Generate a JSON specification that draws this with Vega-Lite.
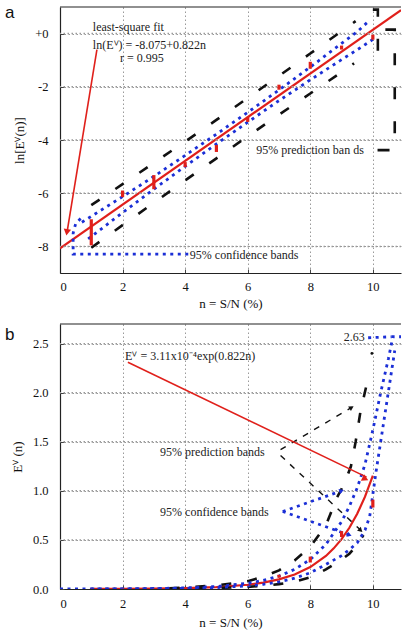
{
  "$schema": "https://vega.github.io/schema/vega-lite/v6.json",
  "background": "white",
  "padding": {"left": 4, "top": 3, "right": 0, "bottom": 0},
  "spacing": 12,
  "config": {
    "view": {"stroke": null},
    "font": "Liberation Serif",
    "axis": {
      "labelFont": "Liberation Serif", "labelFontSize": 12.5, "labelColor": "#111", "labelOverlap": false,
      "titleFont": "Liberation Serif", "titleFontSize": 13, "titleFontWeight": "normal", "titleColor": "#111",
      "domainColor": "#222", "domainWidth": 1.2,
      "tickColor": "#444", "tickSize": -4, "tickWidth": 1,
      "gridColor": "#9a9a9a", "gridDash": [1.5, 2.5], "gridWidth": 1
    }
  },
  "datasets": {
    "ga": [{"v": -8}, {"v": -6}, {"v": -4}, {"v": -2}, {"v": 0}],
    "gb": [{"v": 0.5}, {"v": 1}, {"v": 1.5}, {"v": 2}, {"v": 2.5}],
    "pa": [
      {"n": 1, "lo": -7.96, "hi": -6.98}, {"n": 2, "lo": -6.15, "hi": -5.9}, {"n": 3, "lo": -5.85, "hi": -5.32},
      {"n": 4, "lo": -5.02, "hi": -4.83}, {"n": 5, "lo": -4.45, "hi": -4.19}, {"n": 6, "lo": -3.32, "hi": -3.13},
      {"n": 7, "lo": -2.11, "hi": -1.92}, {"n": 8, "lo": -1.32, "hi": -1.06}, {"n": 9, "lo": -0.6, "hi": -0.45},
      {"n": 10, "lo": -0.23, "hi": -0.04}
    ],
    "fa": [{"n": 0, "v": -8.075}, {"n": 10.9, "v": 0.885}],
    "ca": [
      {"s": "u", "n": 0.7, "v": -7.09}, {"s": "u", "n": 1, "v": -6.87}, {"s": "u", "n": 1.5, "v": -6.5}, {"s": "u", "n": 2, "v": -6.13},
      {"s": "u", "n": 3, "v": -5.37}, {"s": "u", "n": 4, "v": -4.58}, {"s": "u", "n": 5, "v": -3.78}, {"s": "u", "n": 6, "v": -2.96},
      {"s": "u", "n": 7, "v": -2.12}, {"s": "u", "n": 8, "v": -1.26}, {"s": "u", "n": 9, "v": -0.37}, {"s": "u", "n": 9.5, "v": 0.07},
      {"s": "u", "n": 9.85, "v": 0.45},
      {"s": "l", "n": 0.9, "v": -7.72}, {"s": "l", "n": 1.5, "v": -7.18}, {"s": "l", "n": 2, "v": -6.73}, {"s": "l", "n": 3, "v": -5.85},
      {"s": "l", "n": 4, "v": -4.99}, {"s": "l", "n": 5, "v": -4.15}, {"s": "l", "n": 6, "v": -3.33}, {"s": "l", "n": 7, "v": -2.52},
      {"s": "l", "n": 8, "v": -1.74}, {"s": "l", "n": 9, "v": -0.98}, {"s": "l", "n": 9.5, "v": -0.61}, {"s": "l", "n": 10, "v": -0.22}
    ],
    "pra": [
      {"s": "u", "n": 1, "v": -6.45}, {"s": "u", "n": 2, "v": -5.66}, {"s": "u", "n": 3, "v": -4.86}, {"s": "u", "n": 4, "v": -4.06},
      {"s": "u", "n": 5, "v": -3.245}, {"s": "u", "n": 6, "v": -2.42}, {"s": "u", "n": 7, "v": -1.59}, {"s": "u", "n": 8, "v": -0.75},
      {"s": "u", "n": 9, "v": 0.09}, {"s": "u", "n": 9.45, "v": 0.47},
      {"s": "l", "n": 1, "v": -8.05}, {"s": "l", "n": 2, "v": -7.2}, {"s": "l", "n": 3, "v": -6.36}, {"s": "l", "n": 4, "v": -5.52},
      {"s": "l", "n": 5, "v": -4.69}, {"s": "l", "n": 6, "v": -3.86}, {"s": "l", "n": 7, "v": -3.05}, {"s": "l", "n": 8, "v": -2.25},
      {"s": "l", "n": 9, "v": -1.45}, {"s": "l", "n": 9.4, "v": -1.12}
    ],
    "laRed": [{"i": 1, "n": 1.18, "v": -0.6}, {"i": 2, "n": 0.22, "v": -7.5}],
    "laRedHead": [{"n": 0.22, "v": -7.47}],
    "laBlue": [
      {"i": 1, "n": 4.1, "v": -8.29}, {"i": 2, "n": 0.42, "v": -8.29}, {"i": 3, "n": 0.42, "v": -7.5},
      {"i": 4, "n": 0.5, "v": -7.15}, {"i": 5, "n": 0.7, "v": -6.9}
    ],
    "laBlack": [
      {"g": 1, "i": 1, "n": 10.15, "v": -4.38}, {"g": 1, "i": 2, "n": 10.7, "v": -4.38}, {"g": 1, "i": 3, "n": 10.7, "v": 0.15}, {"g": 1, "i": 4, "n": 10.4, "v": 0.15},
      {"g": 2, "i": 1, "n": 10.0, "v": 0.9}, {"g": 2, "i": 2, "n": 10.16, "v": 0.9}, {"g": 2, "i": 3, "n": 10.16, "v": -0.75}, {"g": 2, "i": 4, "n": 10.0, "v": -0.75}
    ],
    "ta": [
      {"n": 1.05, "v": 0.25, "t": "least-square fit"},
      {"n": 1.05, "v": -0.41, "t": "ln(Eⱽ) = -8.075+0.822n"},
      {"n": 1.92, "v": -0.92, "t": "r = 0.995"},
      {"n": 6.27, "v": -4.38, "t": "95% prediction ban ds"},
      {"n": 4.15, "v": -8.34, "t": "95% confidence bands"}
    ],
    "pb": [
      {"n": 1, "lo": 0.0, "hi": 0.002}, {"n": 2, "lo": 0.001, "hi": 0.004}, {"n": 3, "lo": 0.002, "hi": 0.005},
      {"n": 4, "lo": 0.005, "hi": 0.009}, {"n": 5, "lo": 0.011, "hi": 0.016}, {"n": 6, "lo": 0.034, "hi": 0.045},
      {"n": 7, "lo": 0.115, "hi": 0.145}, {"n": 8, "lo": 0.27, "hi": 0.33}, {"n": 9, "lo": 0.53, "hi": 0.59},
      {"n": 10, "lo": 0.83, "hi": 0.91}
    ],
    "fb": [
      {"n": 1, "v": 0.00071}, {"n": 2, "v": 0.0016}, {"n": 3, "v": 0.0037}, {"n": 4, "v": 0.0083}, {"n": 5, "v": 0.019},
      {"n": 6, "v": 0.043}, {"n": 6.5, "v": 0.065}, {"n": 7, "v": 0.098}, {"n": 7.5, "v": 0.148}, {"n": 8, "v": 0.223},
      {"n": 8.5, "v": 0.337}, {"n": 8.75, "v": 0.414}, {"n": 9, "v": 0.508}, {"n": 9.25, "v": 0.624}, {"n": 9.5, "v": 0.766},
      {"n": 9.75, "v": 0.941}, {"n": 10, "v": 1.155}
    ],
    "cb": [
      {"s": "u", "n": 1, "v": 0.001}, {"s": "u", "n": 2, "v": 0.002}, {"s": "u", "n": 3, "v": 0.005}, {"s": "u", "n": 4, "v": 0.011},
      {"s": "u", "n": 5, "v": 0.025}, {"s": "u", "n": 6, "v": 0.058}, {"s": "u", "n": 6.5, "v": 0.088}, {"s": "u", "n": 7, "v": 0.132},
      {"s": "u", "n": 7.5, "v": 0.2}, {"s": "u", "n": 8, "v": 0.3}, {"s": "u", "n": 8.5, "v": 0.455}, {"s": "u", "n": 9, "v": 0.686},
      {"s": "u", "n": 9.25, "v": 0.842}, {"s": "u", "n": 9.5, "v": 1.03}, {"s": "u", "n": 9.75, "v": 1.27}, {"s": "u", "n": 10, "v": 1.62},
      {"s": "u", "n": 10.25, "v": 2.0}, {"s": "u", "n": 10.5, "v": 2.35}, {"s": "u", "n": 10.64, "v": 2.57}, {"s": "u", "n": 10.9, "v": 2.57},
      {"s": "l", "n": 0, "v": 0}, {"s": "l", "n": 1, "v": 0.0005}, {"s": "l", "n": 2, "v": 0.0012}, {"s": "l", "n": 3, "v": 0.0027},
      {"s": "l", "n": 4, "v": 0.006}, {"s": "l", "n": 5, "v": 0.014}, {"s": "l", "n": 6, "v": 0.032}, {"s": "l", "n": 6.5, "v": 0.048},
      {"s": "l", "n": 7, "v": 0.073}, {"s": "l", "n": 7.5, "v": 0.11}, {"s": "l", "n": 8, "v": 0.165}, {"s": "l", "n": 8.5, "v": 0.25},
      {"s": "l", "n": 9, "v": 0.34}, {"s": "l", "n": 9.25, "v": 0.4}, {"s": "l", "n": 9.5, "v": 0.47}, {"s": "l", "n": 9.75, "v": 0.6},
      {"s": "l", "n": 9.9, "v": 0.74}, {"s": "l", "n": 10.1, "v": 1.19}, {"s": "l", "n": 10.26, "v": 1.52}, {"s": "l", "n": 10.7, "v": 2.43}
    ],
    "prb": [
      {"s": "u", "n": 3.5, "v": 0.008}, {"s": "u", "n": 4, "v": 0.016}, {"s": "u", "n": 5, "v": 0.036}, {"s": "u", "n": 6, "v": 0.08},
      {"s": "u", "n": 6.5, "v": 0.125}, {"s": "u", "n": 7, "v": 0.19}, {"s": "u", "n": 7.5, "v": 0.29}, {"s": "u", "n": 8, "v": 0.43},
      {"s": "u", "n": 8.5, "v": 0.65}, {"s": "u", "n": 8.85, "v": 0.93}, {"s": "u", "n": 9.1, "v": 1.08}, {"s": "u", "n": 9.3, "v": 1.25},
      {"s": "u", "n": 9.45, "v": 1.5}, {"s": "u", "n": 9.6, "v": 1.8}, {"s": "u", "n": 9.85, "v": 2.15},
      {"s": "l", "n": 3.5, "v": 0.002}, {"s": "l", "n": 4, "v": 0.004}, {"s": "l", "n": 5, "v": 0.009}, {"s": "l", "n": 6, "v": 0.022},
      {"s": "l", "n": 6.5, "v": 0.033}, {"s": "l", "n": 7, "v": 0.05}, {"s": "l", "n": 7.5, "v": 0.075}, {"s": "l", "n": 8, "v": 0.12},
      {"s": "l", "n": 8.5, "v": 0.2}, {"s": "l", "n": 9, "v": 0.3}, {"s": "l", "n": 9.25, "v": 0.36}, {"s": "l", "n": 9.5, "v": 0.45},
      {"s": "l", "n": 9.7, "v": 0.55}
    ],
    "lbRed": [{"i": 1, "n": 2.17, "v": 2.31}, {"i": 2, "n": 9.8, "v": 1.14}],
    "lbBlack": [
      {"g": 1, "i": 1, "n": 7.05, "v": 1.42}, {"g": 1, "i": 2, "n": 9.32, "v": 1.85},
      {"g": 2, "i": 1, "n": 7.05, "v": 1.36}, {"g": 2, "i": 2, "n": 9.61, "v": 0.6}
    ],
    "lbBlue": [
      {"g": 1, "i": 1, "n": 7.12, "v": 0.79}, {"g": 1, "i": 2, "n": 9.0, "v": 1.0},
      {"g": 2, "i": 1, "n": 7.12, "v": 0.79}, {"g": 2, "i": 2, "n": 9.25, "v": 0.55},
      {"g": 3, "i": 1, "n": 9.85, "v": 2.56}, {"g": 3, "i": 2, "n": 10.6, "v": 2.57}
    ],
    "tb": [
      {"n": 2.08, "v": 2.37, "t": "Eⱽ = 3.11x10⁻⁴exp(0.822n)"},
      {"n": 3.2, "v": 1.395, "t": "95% prediction bands"},
      {"n": 3.2, "v": 0.784, "t": "95% confidence bands"}
    ]
  },
  "vconcat": [
    {
      "width": 341,
      "height": 266,
      "layer": [
        {
          "data": {"name": "fa"},
          "mark": {"type": "line", "color": "#e0201b", "strokeWidth": 2.2, "clip": true},
          "encoding": {
            "x": {"field": "n", "type": "quantitative", "scale": {"domain": [0, 10.9], "nice": false, "zero": false},
              "axis": {"values": [0, 1, 2, 3, 4, 5, 6, 7, 8, 9, 10], "labelExpr": "datum.value % 2 == 0 ? '' + datum.value : ''",
                "labelOverlap": false,
                "gridOpacity": {"condition": {"test": "datum.value % 2 != 0 || datum.value == 0", "value": 0}, "value": 1},
                "labelPadding": 11, "title": "n = S/N (%)", "titlePadding": 5}},
            "y": {"field": "v", "type": "quantitative", "scale": {"domain": [-9, 1], "nice": false, "zero": false},
              "axis": {"values": [-8, -6, -4, -2, 0], "grid": true,
                "gridOpacity": {"condition": {"test": "datum.value > 100", "value": 0}, "value": 1},
                "labelExpr": "datum.value == 0 ? '+0' : '' + datum.value",
                "labelOverlap": false,
                "labelPadding": 16, "title": "ln[Eⱽ(n)]", "titlePadding": 8}}
          }
        },
        {
          "data": {"name": "ga"},
          "mark": {"type": "rule", "color": "#999999", "strokeWidth": 1.5, "strokeDash": [1.5, 2.5]},
          "encoding": {"y": {"field": "v", "type": "quantitative", "scale": {"domain": [-9, 1], "nice": false, "zero": false}}}
        },
        {
          "data": {"values": [{"v": 1}]},
          "mark": {"type": "rule", "color": "#222", "strokeWidth": 1.2},
          "encoding": {"y": {"field": "v", "type": "quantitative", "scale": {"domain": [-9, 1], "nice": false, "zero": false}}}
        },
        {
          "data": {"name": "pra"},
          "mark": {"type": "line", "color": "#111", "strokeWidth": 2.6, "strokeDash": [10, 19], "clip": true},
          "encoding": {
            "x": {"field": "n", "type": "quantitative", "scale": {"domain": [0, 10.9], "nice": false, "zero": false}},
            "y": {"field": "v", "type": "quantitative", "scale": {"domain": [-9, 1], "nice": false, "zero": false}},
            "detail": {"field": "s"}
          }
        },
        {
          "data": {"name": "ca"},
          "mark": {"type": "line", "color": "#1b2fd6", "strokeWidth": 2.8, "strokeDash": [3, 4.5], "clip": true},
          "encoding": {
            "x": {"field": "n", "type": "quantitative", "scale": {"domain": [0, 10.9], "nice": false, "zero": false}},
            "y": {"field": "v", "type": "quantitative", "scale": {"domain": [-9, 1], "nice": false, "zero": false}},
            "detail": {"field": "s"}
          }
        },
        {
          "data": {"name": "laBlue"},
          "mark": {"type": "line", "color": "#1b2fd6", "strokeWidth": 2.8, "strokeDash": [3, 4.5], "clip": true},
          "encoding": {
            "x": {"field": "n", "type": "quantitative", "scale": {"domain": [0, 10.9], "nice": false, "zero": false}},
            "y": {"field": "v", "type": "quantitative", "scale": {"domain": [-9, 1], "nice": false, "zero": false}},
            "order": {"field": "i"}
          }
        },
        {
          "data": {"name": "laBlack"},
          "mark": {"type": "line", "color": "#111", "strokeWidth": 2.6, "strokeDash": [12, 22], "clip": true},
          "encoding": {
            "x": {"field": "n", "type": "quantitative", "scale": {"domain": [0, 10.9], "nice": false, "zero": false}},
            "y": {"field": "v", "type": "quantitative", "scale": {"domain": [-9, 1], "nice": false, "zero": false}},
            "detail": {"field": "g"},
            "order": {"field": "i"}
          }
        },
        {
          "data": {"name": "laRed"},
          "mark": {"type": "line", "color": "#e0201b", "strokeWidth": 1.6},
          "encoding": {
            "x": {"field": "n", "type": "quantitative", "scale": {"domain": [0, 10.9], "nice": false, "zero": false}},
            "y": {"field": "v", "type": "quantitative", "scale": {"domain": [-9, 1], "nice": false, "zero": false}},
            "order": {"field": "i"}
          }
        },
        {
          "data": {"name": "laRedHead"},
          "mark": {"type": "point", "shape": "triangle-up", "angle": 189.4, "filled": true, "color": "#e0201b", "size": 55, "opacity": 1},
          "encoding": {
            "x": {"field": "n", "type": "quantitative", "scale": {"domain": [0, 10.9], "nice": false, "zero": false}},
            "y": {"field": "v", "type": "quantitative", "scale": {"domain": [-9, 1], "nice": false, "zero": false}}
          }
        },
        {
          "data": {"name": "pa"},
          "mark": {"type": "rule", "color": "#e0201b", "strokeWidth": 3.2},
          "encoding": {
            "x": {"field": "n", "type": "quantitative", "scale": {"domain": [0, 10.9], "nice": false, "zero": false}},
            "y": {"field": "lo", "type": "quantitative", "scale": {"domain": [-9, 1], "nice": false, "zero": false}},
            "y2": {"field": "hi"}
          }
        },
        {
          "data": {"name": "ta"},
          "mark": {"type": "text", "font": "Liberation Serif", "fontSize": 12, "align": "left", "baseline": "middle", "color": "#222"},
          "encoding": {
            "x": {"field": "n", "type": "quantitative", "scale": {"domain": [0, 10.9], "nice": false, "zero": false}},
            "y": {"field": "v", "type": "quantitative", "scale": {"domain": [-9, 1], "nice": false, "zero": false}},
            "text": {"field": "t"}
          }
        },
        {
          "data": {"values": [{"t": "a"}]},
          "mark": {"type": "text", "font": "Liberation Sans", "fontSize": 17, "align": "left", "baseline": "alphabetic", "color": "#111"},
          "encoding": {
            "x": {"datum": -1.76, "type": "quantitative", "scale": {"domain": [0, 10.9], "nice": false, "zero": false}},
            "y": {"datum": 0.6, "type": "quantitative", "scale": {"domain": [-9, 1], "nice": false, "zero": false}},
            "text": {"field": "t"}
          }
        }
      ]
    },
    {
      "width": 341,
      "height": 265,
      "layer": [
        {
          "data": {"name": "fb"},
          "mark": {"type": "line", "color": "#e0201b", "strokeWidth": 2.2, "clip": true},
          "encoding": {
            "x": {"field": "n", "type": "quantitative", "scale": {"domain": [0, 10.9], "nice": false, "zero": false},
              "axis": {"values": [0, 1, 2, 3, 4, 5, 6, 7, 8, 9, 10], "labelExpr": "datum.value % 2 == 0 ? '' + datum.value : ''",
                "labelOverlap": false,
                "gridOpacity": {"condition": {"test": "datum.value % 2 != 0 || datum.value == 0", "value": 0}, "value": 1},
                "labelPadding": 12, "title": "n = S/N (%)", "titlePadding": 7}},
            "y": {"field": "v", "type": "quantitative", "scale": {"domain": [0, 2.7], "nice": false, "zero": false},
              "axis": {"values": [0, 0.5, 1, 1.5, 2, 2.5], "format": ".1f", "grid": true,
                "gridOpacity": {"condition": {"test": "datum.value == 0", "value": 0}, "value": 1},
                "labelOverlap": false,
                "labelPadding": 16, "title": "Eⱽ (n)", "titlePadding": 8}}
          }
        },
        {
          "data": {"name": "gb"},
          "mark": {"type": "rule", "color": "#999999", "strokeWidth": 1.5, "strokeDash": [1.5, 2.5]},
          "encoding": {"y": {"field": "v", "type": "quantitative", "scale": {"domain": [0, 2.7], "nice": false, "zero": false}}}
        },
        {
          "data": {"values": [{"v": 2.7}]},
          "mark": {"type": "rule", "color": "#222", "strokeWidth": 1.2},
          "encoding": {"y": {"field": "v", "type": "quantitative", "scale": {"domain": [0, 2.7], "nice": false, "zero": false}}}
        },
        {
          "data": {"name": "prb"},
          "mark": {"type": "line", "color": "#111", "strokeWidth": 2.6, "strokeDash": [10, 16], "clip": true},
          "encoding": {
            "x": {"field": "n", "type": "quantitative", "scale": {"domain": [0, 10.9], "nice": false, "zero": false}},
            "y": {"field": "v", "type": "quantitative", "scale": {"domain": [0, 2.7], "nice": false, "zero": false}},
            "detail": {"field": "s"}
          }
        },
        {
          "data": {"name": "cb"},
          "mark": {"type": "line", "color": "#1b2fd6", "strokeWidth": 2.8, "strokeDash": [3, 4.5], "clip": true},
          "encoding": {
            "x": {"field": "n", "type": "quantitative", "scale": {"domain": [0, 10.9], "nice": false, "zero": false}},
            "y": {"field": "v", "type": "quantitative", "scale": {"domain": [0, 2.7], "nice": false, "zero": false}},
            "detail": {"field": "s"}
          }
        },
        {
          "data": {"name": "lbBlue"},
          "mark": {"type": "line", "color": "#1b2fd6", "strokeWidth": 2.8, "strokeDash": [3, 4.5], "clip": true},
          "encoding": {
            "x": {"field": "n", "type": "quantitative", "scale": {"domain": [0, 10.9], "nice": false, "zero": false}},
            "y": {"field": "v", "type": "quantitative", "scale": {"domain": [0, 2.7], "nice": false, "zero": false}},
            "detail": {"field": "g"},
            "order": {"field": "i"}
          }
        },
        {
          "data": {"name": "lbBlack"},
          "mark": {"type": "line", "color": "#111", "strokeWidth": 1.4, "strokeDash": [6, 7], "clip": true},
          "encoding": {
            "x": {"field": "n", "type": "quantitative", "scale": {"domain": [0, 10.9], "nice": false, "zero": false}},
            "y": {"field": "v", "type": "quantitative", "scale": {"domain": [0, 2.7], "nice": false, "zero": false}},
            "detail": {"field": "g"},
            "order": {"field": "i"}
          }
        },
        {
          "data": {"name": "lbRed"},
          "mark": {"type": "line", "color": "#e0201b", "strokeWidth": 1.6},
          "encoding": {
            "x": {"field": "n", "type": "quantitative", "scale": {"domain": [0, 10.9], "nice": false, "zero": false}},
            "y": {"field": "v", "type": "quantitative", "scale": {"domain": [0, 2.7], "nice": false, "zero": false}},
            "order": {"field": "i"}
          }
        },
        {
          "data": {"values": [{"n": 9.76, "v": 1.122}]},
          "mark": {"type": "point", "shape": "triangle-up", "angle": 116.2, "filled": true, "color": "#e0201b", "size": 55, "opacity": 1},
          "encoding": {
            "x": {"field": "n", "type": "quantitative", "scale": {"domain": [0, 10.9], "nice": false, "zero": false}},
            "y": {"field": "v", "type": "quantitative", "scale": {"domain": [0, 2.7], "nice": false, "zero": false}}
          }
        },
        {
          "data": {"values": [{"n": 9.32, "v": 1.849}]},
          "mark": {"type": "point", "shape": "triangle-up", "angle": 59, "filled": true, "color": "#111", "size": 30, "opacity": 1},
          "encoding": {
            "x": {"field": "n", "type": "quantitative", "scale": {"domain": [0, 10.9], "nice": false, "zero": false}},
            "y": {"field": "v", "type": "quantitative", "scale": {"domain": [0, 2.7], "nice": false, "zero": false}}
          }
        },
        {
          "data": {"values": [{"n": 9.61, "v": 0.597}]},
          "mark": {"type": "point", "shape": "triangle-up", "angle": 133.2, "filled": true, "color": "#111", "size": 30, "opacity": 1},
          "encoding": {
            "x": {"field": "n", "type": "quantitative", "scale": {"domain": [0, 10.9], "nice": false, "zero": false}},
            "y": {"field": "v", "type": "quantitative", "scale": {"domain": [0, 2.7], "nice": false, "zero": false}}
          }
        },
        {
          "data": {"values": [{"n": 9.0, "v": 1.0}]},
          "mark": {"type": "point", "shape": "triangle-up", "angle": 70.7, "filled": true, "color": "#1b2fd6", "size": 28, "opacity": 1},
          "encoding": {
            "x": {"field": "n", "type": "quantitative", "scale": {"domain": [0, 10.9], "nice": false, "zero": false}},
            "y": {"field": "v", "type": "quantitative", "scale": {"domain": [0, 2.7], "nice": false, "zero": false}}
          }
        },
        {
          "data": {"values": [{"n": 9.25, "v": 0.55}]},
          "mark": {"type": "point", "shape": "triangle-up", "angle": 109.4, "filled": true, "color": "#1b2fd6", "size": 28, "opacity": 1},
          "encoding": {
            "x": {"field": "n", "type": "quantitative", "scale": {"domain": [0, 10.9], "nice": false, "zero": false}},
            "y": {"field": "v", "type": "quantitative", "scale": {"domain": [0, 2.7], "nice": false, "zero": false}}
          }
        },
        {
          "data": {"values": [{"n": 9.97, "v": 2.4}]},
          "mark": {"type": "point", "shape": "circle", "filled": true, "color": "#111", "size": 8, "opacity": 1},
          "encoding": {
            "x": {"field": "n", "type": "quantitative", "scale": {"domain": [0, 10.9], "nice": false, "zero": false}},
            "y": {"field": "v", "type": "quantitative", "scale": {"domain": [0, 2.7], "nice": false, "zero": false}}
          }
        },
        {
          "data": {"name": "pb"},
          "mark": {"type": "rule", "color": "#e0201b", "strokeWidth": 3.2},
          "encoding": {
            "x": {"field": "n", "type": "quantitative", "scale": {"domain": [0, 10.9], "nice": false, "zero": false}},
            "y": {"field": "lo", "type": "quantitative", "scale": {"domain": [0, 2.7], "nice": false, "zero": false}},
            "y2": {"field": "hi"}
          }
        },
        {
          "data": {"name": "tb"},
          "mark": {"type": "text", "font": "Liberation Serif", "fontSize": 12, "align": "left", "baseline": "middle", "color": "#222"},
          "encoding": {
            "x": {"field": "n", "type": "quantitative", "scale": {"domain": [0, 10.9], "nice": false, "zero": false}},
            "y": {"field": "v", "type": "quantitative", "scale": {"domain": [0, 2.7], "nice": false, "zero": false}},
            "text": {"field": "t"}
          }
        },
        {
          "data": {"values": [{"n": 9.74, "v": 2.57, "t": "2.63"}]},
          "mark": {"type": "text", "font": "Liberation Serif", "fontSize": 12, "align": "right", "baseline": "middle", "color": "#222"},
          "encoding": {
            "x": {"field": "n", "type": "quantitative", "scale": {"domain": [0, 10.9], "nice": false, "zero": false}},
            "y": {"field": "v", "type": "quantitative", "scale": {"domain": [0, 2.7], "nice": false, "zero": false}},
            "text": {"field": "t"}
          }
        },
        {
          "data": {"values": [{"t": "b"}]},
          "mark": {"type": "text", "font": "Liberation Sans", "fontSize": 17, "align": "left", "baseline": "alphabetic", "color": "#111"},
          "encoding": {
            "x": {"datum": -1.76, "type": "quantitative", "scale": {"domain": [0, 10.9], "nice": false, "zero": false}},
            "y": {"datum": 2.54, "type": "quantitative", "scale": {"domain": [0, 2.7], "nice": false, "zero": false}},
            "text": {"field": "t"}
          }
        }
      ]
    }
  ]
}
